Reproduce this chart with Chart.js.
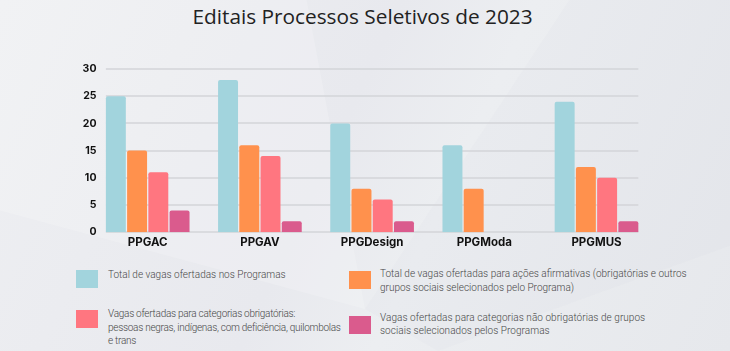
<!DOCTYPE html>
<html>
<head>
<meta charset="utf-8">
<script src="https://cdn.jsdelivr.net/npm/chart.js@4"></script>
<style>
  html, body { margin: 0; padding: 0; }
  body {
    width: 730px; height: 351px; position: relative; overflow: hidden;
    background: linear-gradient(115deg, #eeeff2 0%, #e8e9ee 45%, #eceef1 60%, #e6e8ec 100%);
    font-family: Roboto, "Open Sans", sans-serif;
  }
  .facet { position: absolute; left: 0; top: 0; width: 730px; height: 351px; }
  #title {
    position: absolute; left: 0; top: 2px; width: 725px; text-align: center;
    font-family: "Open Sans", sans-serif; font-size: 20.8px; color: #222;
  }
  #chart { position: absolute; left: 0; top: 0; }
  .sw { position: absolute; width: 22px; height: 18px; }
  .tx { position: absolute; font-size: 10px; line-height: 13.5px; color: #474747; font-weight: 300; white-space: nowrap; }
</style>
</head>
<body>
<div class="facet" style="background:rgba(255,255,255,0.18);clip-path:polygon(0 0,42% 0,50% 88%,0 60%)"></div>
<div class="facet" style="background:rgba(200,203,212,0.08);clip-path:polygon(78% 0,100% 0,100% 70%,60% 100%,50% 88%)"></div>
<div id="title">Editais Processos Seletivos de 2023</div>
<canvas id="chart" width="730" height="256"></canvas>
<div id="legend"></div>
<script>
const categories = ['PPGAC', 'PPGAV', 'PPGDesign', 'PPGModa', 'PPGMUS'];
const totalVagas = [25, 28, 20, 16, 24];
const acoesAfirmativas = [15, 16, 8, 8, 12];
const obrigatorias = [11, 14, 6, null, 10];
const naoObrigatorias = [4, 2, 2, null, 2];
const yTicks = [0, 5, 10, 15, 20, 25, 30];

const seriesLabels = [
    ['Total de vagas ofertadas nos Programas'],
    ['Total de vagas ofertadas para ações afirmativas (obrigatórias e outros', 'grupos sociais  selecionados pelo Programa)'],
    ['Vagas ofertadas para categorias obrigatórias:', 'pessoas negras, indígenas, com deficiência, quilombolas', 'e trans'],
    ['Vagas ofertadas para categorias não obrigatórias de grupos', 'sociais selecionados pelos Programas'],
];
const colors = ['#a2d4dd', '#ff914d', '#ff7680', '#da5b8d'];
const series = [totalVagas, acoesAfirmativas, obrigatorias, naoObrigatorias];

// gridlines only span from the first bar to the last bar, like the original
const gridPlugin = {
    id: 'gridSpan',
    beforeDatasetsDraw(chart) {
        const y = chart.scales.y;
        const first = chart.getDatasetMeta(0).data[0];
        const last = chart.getDatasetMeta(series.length - 1).data[categories.length - 1];
        const left = first.x - first.width / 2;
        const right = last.x + last.width / 2;
        const ctx = chart.ctx;
        ctx.save();
        ctx.strokeStyle = '#d3d4d9';
        ctx.lineWidth = 1.5;
        yTicks.forEach(v => {
            const py = Math.round(y.getPixelForValue(v));
            ctx.beginPath();
            ctx.moveTo(left, py);
            ctx.lineTo(right, py);
            ctx.stroke();
        });
        ctx.restore();
    },
};

new Chart(document.getElementById('chart'), {
    type: 'bar',
    data: {
        labels: categories,
        datasets: series.map((d, i) => ({
            label: seriesLabels[i].join(' '),
            data: d,
            backgroundColor: colors[i],
            borderRadius: 2,
            borderSkipped: 'bottom',
            categoryPercentage: 0.757,
            barPercentage: 0.94,
        })),
    },
    options: {
        responsive: false,
        animation: false,
        layout: { padding: { top: 69, left: 0, right: 77.4, bottom: 4 } },
        plugins: { legend: { display: false }, tooltip: { enabled: false } },
        scales: {
            x: {
                grid: { display: false, drawTicks: false },
                border: { display: false },
                ticks: { color: '#111', padding: 3, font: { family: 'Inter', size: 11.5, weight: 'bold' } },
            },
            y: {
                min: 0, max: 30,
                afterFit: s => { s.width = 91.6; },
                grid: { display: false, drawTicks: false },
                border: { display: false },
                ticks: {
                    stepSize: 5, color: '#111',
                    mirror: true, crossAlign: 'far', padding: -9,
                    font: { family: 'Inter', size: 10.5, weight: 'bold' },
                },
            },
        },
    },
    plugins: [gridPlugin],
});

// custom legend (two columns, wrapped text)
const legendPos = [
    { sx: 76, sy: 270, tx: 108, ty: 268, ls: 0 },
    { sx: 349, sy: 271, tx: 380, ty: 267, ls: 0 },
    { sx: 76, sy: 310, tx: 108, ty: 307, ls: -0.27 },
    { sx: 349, sy: 316, tx: 380, ty: 310.5, ls: 0.05 },
];
const legend = document.getElementById('legend');
legend.innerHTML = seriesLabels.map((lines, i) => {
    const p = legendPos[i];
    return `<div class="sw" style="left:${p.sx}px;top:${p.sy}px;background:${colors[i]}"></div>
            <div class="tx" style="left:${p.tx}px;top:${p.ty}px;letter-spacing:${p.ls}px">${lines.join('<br>')}</div>`;
}).join('');
</script>
</body>
</html>
